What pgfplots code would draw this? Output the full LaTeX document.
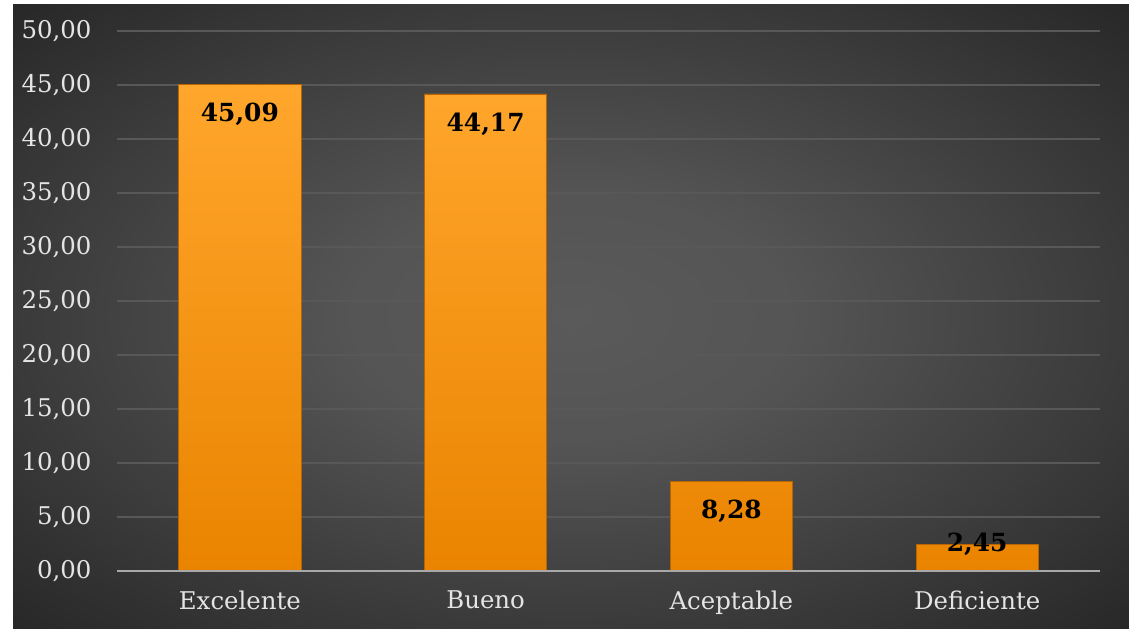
\documentclass[border=0pt]{standalone}
\usepackage{fontspec}
\setmainfont{DejaVu Serif}
\usepackage{pgfplots}
\pgfplotsset{compat=1.18}
\definecolor{barTop}{HTML}{FFA62C}
\definecolor{barBot}{HTML}{EA8400}
\definecolor{barEdge}{HTML}{B86400}
\definecolor{bgIn}{HTML}{5A5A5A}
\definecolor{bgOut}{HTML}{232323}
\definecolor{gridc}{HTML}{585858}
\definecolor{tickc}{HTML}{E4E4E4}
\definecolor{basec}{HTML}{A8A8A8}
\pgfdeclareradialshading{bgshade}{\pgfpoint{0bp}{0bp}}{color(0bp)=(bgIn); color(10bp)=(bgIn!90!bgOut); color(38bp)=(bgOut); color(50bp)=(bgOut)}
\begin{document}
\begin{tikzpicture}[x=1bp,y=1bp]
\fill[white] (0,0) rectangle (1129,629);
\shade[shading=bgshade] (13,0) rectangle (1129,624);
\useasboundingbox (0,0) rectangle (1129,629);
\begin{axis}[
  at={(117bp,58bp)}, anchor=south west,
  scale only axis, width=983bp, height=540bp,
  xmin=-0.5, xmax=3.5, ymin=0, ymax=50,
  ytick={0,5,...,50},
  xtick={0,1,2,3},
  xticklabels={Excelente,Bueno,Aceptable,Deficiente},
  axis line style={draw=none},
  major tick length=0pt,
  ymajorgrids,
  grid style={gridc, line width=1.5bp},
  tick label style={font=\fontsize{24.5}{28}\selectfont, text=tickc},
  yticklabel style={xshift=-22bp, /pgf/number format/.cd, fixed, fixed zerofill, precision=2, use comma, assume math mode=true},
  xticklabel style={yshift=-16bp},
  ybar, bar width=0.497,
  clip=false,
]
\addplot[draw=barEdge, line width=0.8bp, top color=barTop, bottom color=barBot]
  coordinates {(0,45.09) (1,44.17) (2,8.28) (3,2.45)};
\draw[basec, line width=2.5bp] (axis cs:-0.5,0) -- (axis cs:3.5,0);
\begin{scope}[every node/.style={font=\bfseries\fontsize{25}{29}\selectfont, text=black}]
\node at (axis cs:0,45.09) [yshift=-30bp] {45,09};
\node at (axis cs:1,44.17) [yshift=-30bp] {44,17};
\node at (axis cs:2,8.28) [yshift=-30bp] {8,28};
\node at (axis cs:3,2.45) [yshift=0bp] {2,45};
\end{scope}
\end{axis}
\end{tikzpicture}
\end{document}
